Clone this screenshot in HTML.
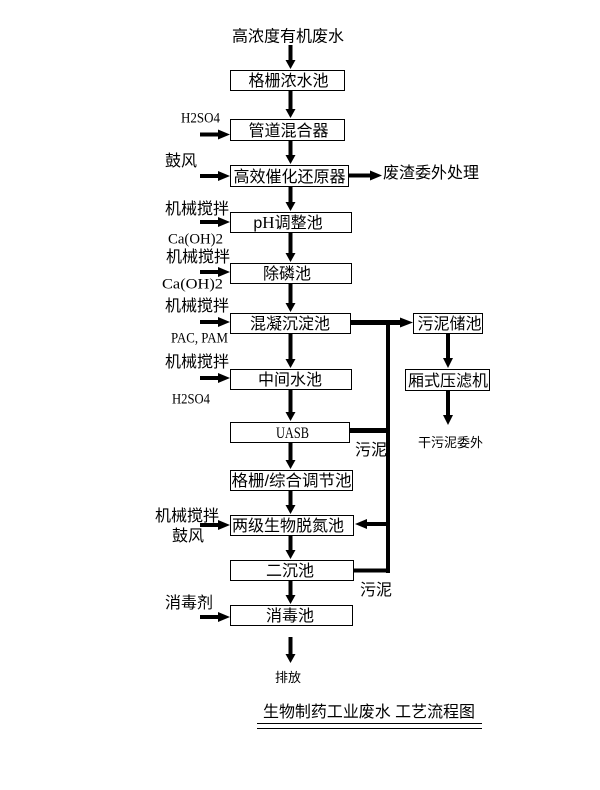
<!DOCTYPE html>
<html><head><meta charset="utf-8"><style>
html,body{margin:0;padding:0;background:#fff;}
svg{display:block;}
.c{font-family:"Liberation Sans","Noto Sans CJK SC",sans-serif;font-size:16px;fill:#000;}
.s{font-family:"Liberation Sans","Noto Sans CJK SC",sans-serif;font-size:13px;fill:#000;}
.l{font-family:"Liberation Serif","Noto Sans CJK SC",serif;font-size:15px;fill:#000;}
</style></head><body>
<svg width="600" height="790" viewBox="0 0 600 790" xmlns="http://www.w3.org/2000/svg">
<rect width="600" height="790" fill="#fff"/>
<g fill="#fff" stroke="#000" stroke-width="1">
<rect x="230.5" y="70.5" width="114" height="20"/>
<rect x="230.5" y="119.5" width="114" height="21"/>
<rect x="230.5" y="165.5" width="118" height="21"/>
<rect x="230.5" y="212.5" width="121" height="20"/>
<rect x="230.5" y="263.5" width="121" height="20"/>
<rect x="230.5" y="313.5" width="120" height="20"/>
<rect x="230.5" y="369.5" width="121" height="20"/>
<rect x="230.5" y="422.5" width="119" height="20"/>
<rect x="230.5" y="470.5" width="122" height="20"/>
<rect x="230.5" y="515.5" width="123" height="20"/>
<rect x="230.5" y="560.5" width="123" height="20"/>
<rect x="230.5" y="605.5" width="122" height="20"/>
<rect x="413.5" y="313.5" width="69" height="20"/>
<rect x="405.5" y="369.5" width="84" height="21"/>
</g>
<g stroke="#000" stroke-width="4" fill="none">
<line x1="290.5" y1="45" x2="290.5" y2="61"/>
<line x1="290.5" y1="91" x2="290.5" y2="110"/>
<line x1="290.5" y1="141" x2="290.5" y2="156"/>
<line x1="290.5" y1="187" x2="290.5" y2="203"/>
<line x1="290.5" y1="233" x2="290.5" y2="254"/>
<line x1="290.5" y1="284" x2="290.5" y2="304"/>
<line x1="290.5" y1="334" x2="290.5" y2="360"/>
<line x1="290.5" y1="390" x2="290.5" y2="413"/>
<line x1="290.5" y1="443" x2="290.5" y2="461"/>
<line x1="290.5" y1="491" x2="290.5" y2="506"/>
<line x1="290.5" y1="536" x2="290.5" y2="551"/>
<line x1="290.5" y1="581" x2="290.5" y2="596"/>
<line x1="290.5" y1="637" x2="290.5" y2="655"/>
<line x1="200" y1="134.5" x2="219" y2="134.5"/>
<line x1="200" y1="176" x2="219" y2="176"/>
<line x1="200" y1="222" x2="219" y2="222"/>
<line x1="200" y1="272" x2="219" y2="272"/>
<line x1="200" y1="322" x2="219" y2="322"/>
<line x1="200" y1="378" x2="219" y2="378"/>
<line x1="200" y1="525" x2="219" y2="525"/>
<line x1="200" y1="617" x2="219" y2="617"/>
<line x1="349" y1="175.5" x2="371" y2="175.5"/>
<line x1="351" y1="322.5" x2="402" y2="322.5" stroke-width="5"/>
<line x1="388" y1="320" x2="388" y2="573"/>
<line x1="350" y1="430.5" x2="388" y2="430.5" stroke-width="5"/>
<line x1="366" y1="524" x2="388" y2="524"/>
<line x1="354" y1="570.5" x2="388" y2="570.5"/>
<line x1="448" y1="334" x2="448" y2="359"/>
<line x1="448" y1="391" x2="448" y2="416"/>
</g>
<g fill="#000">
<polygon points="285.5,60 295.5,60 290.5,69"/>
<polygon points="285.5,109 295.5,109 290.5,118"/>
<polygon points="285.5,155 295.5,155 290.5,164"/>
<polygon points="285.5,202 295.5,202 290.5,211"/>
<polygon points="285.5,253 295.5,253 290.5,262"/>
<polygon points="285.5,303 295.5,303 290.5,312"/>
<polygon points="285.5,359 295.5,359 290.5,368"/>
<polygon points="285.5,412 295.5,412 290.5,421"/>
<polygon points="285.5,460 295.5,460 290.5,469"/>
<polygon points="285.5,505 295.5,505 290.5,514"/>
<polygon points="285.5,550 295.5,550 290.5,559"/>
<polygon points="285.5,595 295.5,595 290.5,604"/>
<polygon points="285.5,654 295.5,654 290.5,663"/>
<polygon points="443,358 453,358 448,368"/>
<polygon points="443,415 453,415 448,425"/>
<polygon points="218,129.5 218,139.5 230,134.5"/>
<polygon points="218,171 218,181 230,176"/>
<polygon points="218,217 218,227 230,222"/>
<polygon points="218,267 218,277 230,272"/>
<polygon points="218,317 218,327 230,322"/>
<polygon points="218,373 218,383 230,378"/>
<polygon points="218,520 218,530 230,525"/>
<polygon points="218,612 218,622 230,617"/>
<polygon points="370,170.5 370,180.5 382,175.5"/>
<polygon points="400,317.5 400,327.5 413,322.5"/>
<polygon points="367,519 367,529 355,524"/>
</g>
<g class="c" text-anchor="middle">
<text x="288.5" y="86">格栅浓水池</text>
<text x="288.5" y="136">管道混合器</text>
<text x="289.5" y="182">高效催化还原器</text>
<text x="288" y="228">p<tspan style="font-family:'Liberation Serif',serif;font-size:17px">H</tspan>调整池</text>
<text x="287" y="279">除磷池</text>
<text x="290" y="329">混凝沉淀池</text>
<text x="290" y="385">中间水池</text>
<text x="292.5" y="438" class="l" style="font-size:16px" textLength="33" lengthAdjust="spacingAndGlyphs">UASB</text>
<text x="291.5" y="486" textLength="120" lengthAdjust="spacingAndGlyphs">格栅/综合调节池</text>
<text x="288" y="531">两级生物脱氮池</text>
<text x="290" y="576">二沉池</text>
<text x="290" y="621">消毒池</text>
<text x="449.5" y="329">污泥储池</text>
<text x="448" y="386">厢式压滤机</text>
</g>
<g class="c">
<text x="232" y="41.5">高浓度有机废水</text>
<text x="383" y="178">废渣委外处理</text>
<text x="165" y="166">鼓风</text>
<text x="165" y="214">机械搅拌</text>
<text x="166" y="262">机械搅拌</text>
<text x="165" y="311">机械搅拌</text>
<text x="165" y="367">机械搅拌</text>
<text x="355" y="455">污泥</text>
<text x="155" y="521">机械搅拌</text>
<text x="172" y="541">鼓风</text>
<text x="360" y="595">污泥</text>
<text x="165" y="608">消毒剂</text>
<text x="263" y="717" textLength="212" lengthAdjust="spacingAndGlyphs">生物制药工业废水 工艺流程图</text>
</g>
<g class="s">
<text x="418" y="447">干污泥委外</text>
<text x="275" y="682">排放</text>
</g>
<g class="l">
<text x="181" y="122.5" textLength="39" lengthAdjust="spacingAndGlyphs">H2SO4</text>
<text x="168" y="243.5" textLength="55" lengthAdjust="spacingAndGlyphs">Ca(OH)2</text>
<text x="162" y="288.5" textLength="61" lengthAdjust="spacingAndGlyphs">Ca(OH)2</text>
<text x="171" y="342.5" textLength="57" lengthAdjust="spacingAndGlyphs">PAC, PAM</text>
<text x="172" y="403.5" textLength="38" lengthAdjust="spacingAndGlyphs">H2SO4</text>
</g>
<g stroke="#000" stroke-width="1">
<line x1="257" y1="723.5" x2="482" y2="723.5"/>
<line x1="257" y1="728.5" x2="482" y2="728.5"/>
</g>
</svg>
</body></html>
